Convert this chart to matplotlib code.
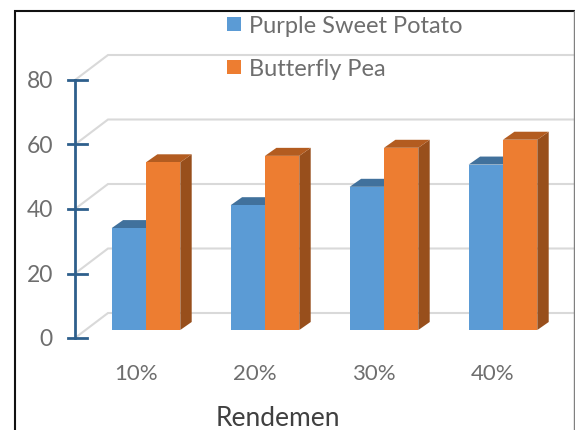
import matplotlib
matplotlib.use("Agg")
import matplotlib.pyplot as plt
from matplotlib.patches import Polygon, Rectangle

plt.rcParams['font.family'] = ['Lato', 'DejaVu Sans']

categories = ['10%', '20%', '30%', '40%']
purple_sweet_potato = [31.6, 38.7, 44.4, 51.3]
butterfly_pea = [52.0, 54.0, 56.5, 59.0]
y_ticks = [0, 20, 40, 60, 80]
series_names = ['Purple Sweet Potato', 'Butterfly Pea']
x_title = 'Rendemen'

W, H = 575, 430
fig = plt.figure(figsize=(W / 100, H / 100), dpi=100)
ax = fig.add_axes([0, 0, 1, 1])

# scales: pixel layout of the pseudo-3D plot
PX_X, PX_Y = 119.0, 3.225      # pixels per category / per value
X0, Y0 = 146.0, 330.0          # pixel of category 0 / value 0 (bar front plane)
ax.set_xlim(-X0 / PX_X, (W - X0) / PX_X)
ax.set_ylim(-(H - Y0) / PX_Y, Y0 / PX_Y)
ax.axis('off')

bw = 34.3 / PX_X
bdx, bdy = 11.4 / PX_X, 8.0 / PX_Y          # bar depth
ax_x = (75 - X0) / PX_X                     # axis line position
ax_y0 = -8.0 / PX_Y                         # value 0 on the axis plane
wall_dx, wall_dy = 33 / PX_X, 25 / PX_Y     # floor depth
right = (574 - X0) / PX_X

GRID = '#D9D9D9'
AXIS = '#2E5F8C'
LABEL = '#6E6E6E'

# gridlines
for t in y_ticks:
    y = ax_y0 + t
    ax.plot([ax_x, ax_x + wall_dx, right], [y, y + wall_dy, y + wall_dy],
            color=GRID, lw=1.5, solid_joinstyle='miter', zorder=1)

# value axis
ax.plot([ax_x, ax_x], [ax_y0, ax_y0 + y_ticks[-1]], color=AXIS, lw=2.0, zorder=2)
for t in y_ticks:
    y = ax_y0 + t
    ax.plot([ax_x - 7 / PX_X, ax_x + 12 / PX_X], [y, y], color=AXIS, lw=2.0, zorder=2)
    ax.text(ax_x - 22 / PX_X, y, str(t), ha='right', va='center_baseline',
            fontsize=16.5, color=LABEL, zorder=3)


def bar3d(x, v, front, top, side, z):
    ax.add_patch(Polygon([(x + bw, 0), (x + bw + bdx, bdy), (x + bw + bdx, v + bdy), (x + bw, v)],
                         closed=True, fc=side, ec='none', zorder=z))
    ax.add_patch(Polygon([(x, v), (x + bdx, v + bdy), (x + bw + bdx, v + bdy), (x + bw, v)],
                         closed=True, fc=top, ec='none', zorder=z))
    ax.add_patch(Rectangle((x, 0), bw, v, fc=front, ec='none', zorder=z + 0.1))


for i, (a, b) in enumerate(zip(purple_sweet_potato, butterfly_pea)):
    bar3d(i - bw, a, '#5B9BD5', '#41719C', '#41719C', 4)
    bar3d(i, b, '#ED7D31', '#B35C20', '#984F1C', 5)
    ax.text(i - 10 / PX_X, -42 / PX_Y, categories[i], ha='center', va='center_baseline',
            fontsize=16, color=LABEL)

ax.text((278 - X0) / PX_X, -(416 - Y0) / PX_Y, x_title, ha='center', va='center_baseline',
        fontsize=19, color='#404040')

# legend
for name, colour, py in zip(series_names, ['#5B9BD5', '#ED7D31'], [24.5, 67.5]):
    ax.add_patch(Rectangle(((227.5 - X0) / PX_X, (Y0 - py - 7) / PX_Y), 13.5 / PX_X, 14 / PX_Y,
                           fc=colour, ec='none', zorder=6))
    ax.text((249 - X0) / PX_X, (Y0 - py) / PX_Y, name, ha='left', va='center_baseline',
            fontsize=17, color=LABEL, zorder=6)

# picture frame
ax.plot([14.5 / W, 14.5 / W, 574 / W], [0, 1 - 10.5 / H, 1 - 10.5 / H], color='#111111', lw=1.5,
        transform=ax.transAxes, clip_on=False, solid_joinstyle='miter', zorder=7)
ax.plot([574 / W, 574 / W], [0, 1 - 10.5 / H], color='#808080', lw=1.0,
        transform=ax.transAxes, clip_on=False, zorder=7)

fig.savefig('out.png', dpi=100, facecolor='white')
